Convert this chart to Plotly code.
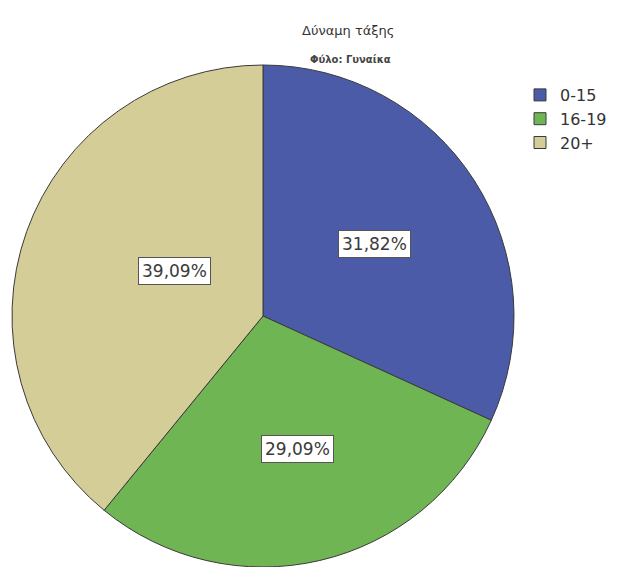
import math
import plotly.graph_objects as go

categories = ["0-15", "16-19", "20+"]
counts = [35, 32, 43]
colors = ["#4b5ba8", "#6fb553", "#d4cd98"]
title_text = "Δύναμη τάξης"
subtitle_text = "Φύλο: Γυναίκα"

W, H = 628, 567
# pie placement in pixels
cx, cy, R = 263, 316, 251

fig = go.Figure()
fig.add_trace(go.Pie(
    labels=categories,
    values=counts,
    sort=False,
    direction="clockwise",
    rotation=0,
    marker=dict(colors=colors, line=dict(color="#3a3a3a", width=1)),
    textinfo="none",
    hoverinfo="label+percent",
    domain=dict(x=[(cx - R) / W, (cx + R) / W], y=[(H - (cy + R)) / H, (H - (cy - R)) / H]),
))

total = sum(counts)
cum = 0
radii = [0.53, 0.6, 0.53]
for c, rf in zip(counts, radii):
    mid = (cum + c / 2) / total * 2 * math.pi
    cum += c
    px = cx + rf * R * math.sin(mid)
    py = cy - rf * R * math.cos(mid)
    pct = f"{100 * c / total:.2f}".replace(".", ",") + "%"
    fig.add_annotation(
        x=px / W, y=1 - py / H, xref="paper", yref="paper",
        text=pct, showarrow=False,
        font=dict(family="DejaVu Sans", size=17, color="#3a3a3a"),
        bgcolor="white", bordercolor="#555555", borderwidth=1, borderpad=3,
    )

fig.add_annotation(x=348 / W, y=1 - 21 / H, xref="paper", yref="paper",
                   text=title_text, showarrow=False,
                   font=dict(family="DejaVu Sans", size=13, color="#333333"))
fig.add_annotation(x=350 / W, y=1 - 52 / H, xref="paper", yref="paper",
                   text="<b>" + subtitle_text + "</b>", showarrow=False,
                   font=dict(family="DejaVu Sans", size=10, color="#444444"))

fig.update_layout(
    width=W, height=H,
    margin=dict(l=0, r=0, t=0, b=0),
    paper_bgcolor="white",
    plot_bgcolor="white",
    showlegend=True,
    legend=dict(x=520 / W, y=1 - 78 / H, xanchor="left", yanchor="top",
                font=dict(family="DejaVu Sans", size=16, color="#333333"),
                itemwidth=30, tracegroupgap=0, traceorder="normal",
                bgcolor="rgba(0,0,0,0)"),
)

fig.write_html("out.html")
